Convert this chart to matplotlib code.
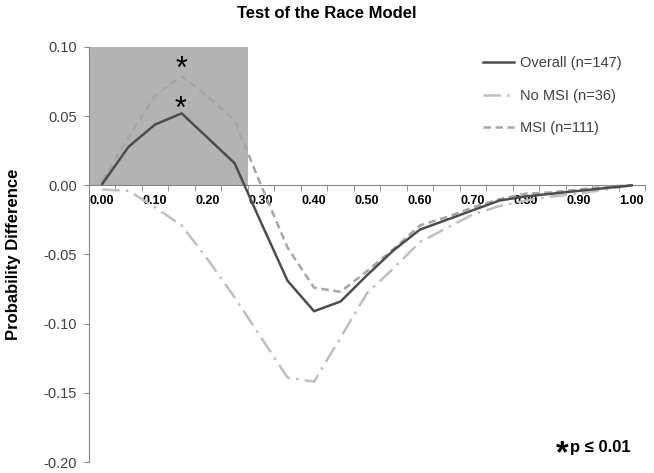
import matplotlib
matplotlib.use("Agg")
import matplotlib.pyplot as plt
from matplotlib.patches import Rectangle
import numpy as np

plt.rcParams['font.family'] = ['Liberation Sans', 'DejaVu Sans']

# quantile categories
probs = [0.00, 0.05, 0.10, 0.15, 0.20, 0.25, 0.30, 0.35, 0.40, 0.45, 0.50,
         0.55, 0.60, 0.65, 0.70, 0.75, 0.80, 0.85, 0.90, 0.95, 1.00]

overall = [0.001, 0.028, 0.044, 0.052, 0.034, 0.016, -0.027, -0.069, -0.091, -0.084, -0.065,
           -0.047, -0.032, -0.025, -0.018, -0.011, -0.008, -0.006, -0.004, -0.002, 0.000]
no_msi = [-0.003, -0.004, -0.016, -0.029, -0.054, -0.081, -0.110, -0.139, -0.142, -0.110, -0.078,
          -0.060, -0.041, -0.031, -0.021, -0.015, -0.011, -0.008, -0.006, -0.003, 0.000]
msi = [0.003, 0.035, 0.065, 0.079, 0.064, 0.047, 0.000, -0.045, -0.074, -0.077, -0.062,
       -0.046, -0.029, -0.023, -0.016, -0.010, -0.006, -0.005, -0.003, -0.001, 0.000]

labels = ['Overall (n=147)', 'No MSI (n=36)', 'MSI (n=111)']
xtick_vals = [0.0, 0.1, 0.2, 0.3, 0.4, 0.5, 0.6, 0.7, 0.8, 0.9, 1.0]
ytick_vals = [0.10, 0.05, 0.00, -0.05, -0.10, -0.15, -0.20]

fig = plt.figure(figsize=(6.54, 4.73), dpi=100)
ax = fig.add_axes([89/654, 1-462/473, (645-89)/654, (462-47)/473])

# shaded window (significant range)
ax.add_patch(Rectangle((-0.025, 0.0), 0.30, 0.10, facecolor='#b3b3b3', edgecolor='none', zorder=0))

ax.plot(probs, overall, color='#4d4d4d', lw=1.8, label=labels[0], zorder=4)
ax.plot(probs, no_msi, color='#bfbfbf', lw=1.8, dashes=(7, 2.5, 1, 2.5), label=labels[1], zorder=3)
ax.plot(probs, msi, color='#a6a6a6', lw=1.8, dashes=(3, 1.8), label=labels[2], zorder=3)

ax.set_xlim(-0.025, 1.025)
ax.set_ylim(-0.20, 0.10)

for s in ['top', 'right']:
    ax.spines[s].set_visible(False)
ax.spines['bottom'].set_position(('data', 0))
ax.spines['bottom'].set_color('#868686')
ax.spines['left'].set_color('#868686')

ax.set_xticks(xtick_vals)
ax.set_xticklabels(['%.2f' % v for v in xtick_vals], fontweight='bold', fontsize=9)
ax.set_xticks([0.025 + 0.05*k for k in range(21)], minor=True)
ax.tick_params(axis='x', which='major', length=0, pad=7)
ax.tick_params(axis='x', which='minor', length=4, direction='out', color='#868686')

ax.set_yticks(ytick_vals)
ax.set_yticklabels(['%.2f' % v for v in ytick_vals], fontsize=10.5, color='#404040')
ax.tick_params(axis='y', length=3.5, color='#868686', pad=5)

fig.text(14/654, 1-254/473, 'Probability Difference', rotation=90, ha='center', va='center',
         fontweight='bold', fontsize=12)

fig.text(0.5, 1-14/473, 'Test of the Race Model', ha='center', va='center',
         fontweight='bold', fontsize=12)

# significance stars
ax.text(0.15, 0.0775, '*', ha='center', va='baseline', fontsize=22)
ax.text(0.148, 0.0485, '*', ha='center', va='baseline', fontsize=22)

leg = ax.legend(loc='upper left', bbox_to_anchor=(0.709, 0.978), frameon=False,
                borderpad=0, borderaxespad=0, handlelength=2.1, handletextpad=0.4,
                labelspacing=1.27, fontsize=10.5)
for t in leg.get_texts():
    t.set_color('#404040')

fig.text(568/654, 1-454/473, '*', ha='right', va='center', fontsize=23, fontweight='bold')
fig.text(570/654, 1-447/473, 'p \u2264 0.01', ha='left', va='center', fontsize=12, fontweight='bold')

fig.savefig('out.png', dpi=100)
